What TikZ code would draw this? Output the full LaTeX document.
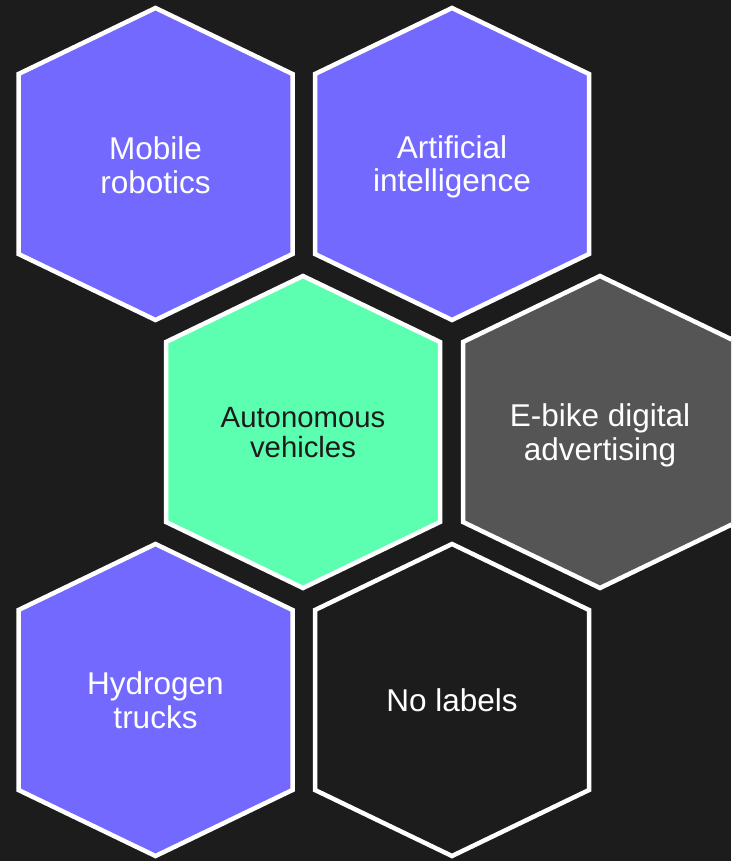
\documentclass[tikz,border=0pt]{standalone}
\usepackage{fontspec}
\setmainfont{Liberation Sans}
\definecolor{bg}{HTML}{1B1C1B}
\definecolor{purp}{HTML}{7369FF}
\definecolor{mint}{HTML}{5CFFB0}
\definecolor{greyhex}{HTML}{555555}
\tikzset{
  hexcell/.style={draw=white, line width=4.5pt, line join=miter},
  lbl/.style={align=center, text=white, font=\fontsize{31.5}{33.5}\selectfont, inner sep=0pt},
  lbldark/.style={align=center, text=bg, font=\fontsize{29.3}{29.5}\selectfont, inner sep=0pt}
}
\newcommand\hexpath[3]{%
  \path[hexcell, fill=#3] (#1,#2-156) -- (#1+137,#2-90) -- (#1+137,#2+90) -- (#1,#2+156)
    -- (#1-137,#2+90) -- (#1-137,#2-90) -- cycle;}
\begin{document}
\begin{tikzpicture}[x=1pt,y=-1pt]
  \useasboundingbox (0,0) rectangle (731,861);
  \clip (0,0) rectangle (731,861);
  \fill[bg] (0,0) rectangle (731,861);
  \hexpath{155.5}{164}{purp}
  \hexpath{452}{164}{purp}
  \hexpath{303}{432}{mint}
  \hexpath{600}{432}{greyhex}
  \hexpath{155.5}{700}{purp}
  \hexpath{452}{700}{bg}
  \node[lbl] (mob) at (155.5,165) {Mobile\\robotics};
  \node[lbl] (ai) at (452,167) {Artificial\\intelligence};
  \node[lbldark] (av) at (303,432.5) {Autonomous\\vehicles};
  \node[lbl] (eb) at (600,435.5) {E-bike digital\\advertising};
  \node[lbl] (hy) at (155.5,700) {Hydrogen\\trucks};
  \node[lbl] (nl) at (452,700) {No labels};
\end{tikzpicture}
\end{document}
